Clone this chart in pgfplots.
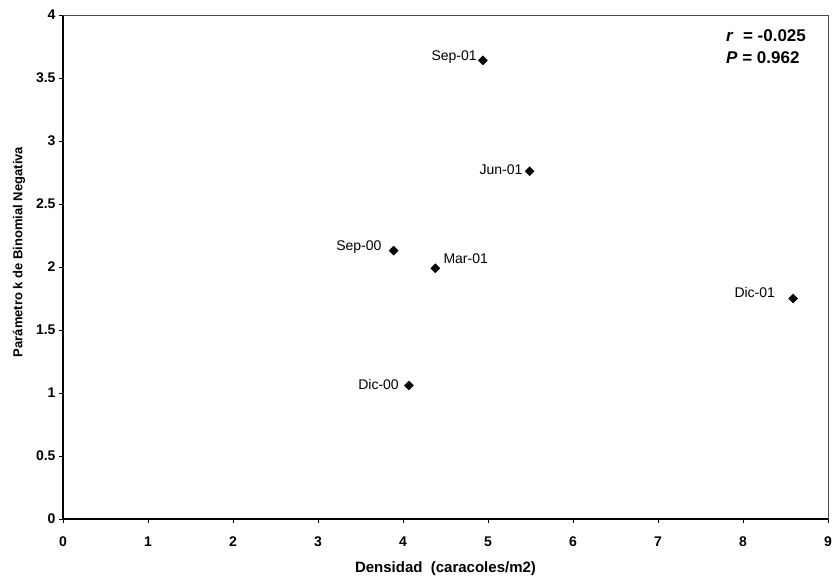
\documentclass[border=0pt]{standalone}
\usepackage{fontspec}
\setmainfont{Liberation Sans}
\usepackage{pgfplots}
\pgfplotsset{compat=1.18}
\usepackage{pgfplotstable}
\pgfplotstableread{
x y
3.89 2.13
4.07 1.06
4.38 1.99
4.94 3.64
5.49 2.76
8.59 1.75
}\datatable
\begin{document}
\begin{tikzpicture}
\begin{axis}[
  scale only axis, width=765pt, height=504pt,
  xmin=0, xmax=9, ymin=0, ymax=4,
  xtick={0,1,...,9}, ytick={0,0.5,...,4},
  axis x line*=bottom, axis y line*=left,
  axis line style={line width=1.1pt, -},
  tick align=outside, major tick length=4pt,
  tick style={black, line width=0.8pt},
  /pgf/number format/assume math mode=true,
  ticklabel style={font=\fontsize{14}{16}\selectfont\bfseries},
  xticklabel style={yshift=-10pt},
  yticklabel style={/pgf/number format/fixed},
  xlabel={Densidad\ \ (caracoles/m2)},
  ylabel={Parámetro k de Binomial Negativa},
  xlabel style={font=\fontsize{15}{17}\selectfont\bfseries, yshift=-8pt},
  ylabel style={font=\fontsize{13}{15}\selectfont\bfseries, yshift=4pt, xshift=15pt},
  clip=false,
]
\addplot[only marks, mark=square*, mark size=3.2pt,
  mark options={rotate=45, fill=black, draw=black}]
  table[x=x, y=y] {\datatable};
\begin{scope}[every node/.style={inner sep=0pt, font=\fontsize{14}{16}\selectfont}]
\node[anchor=east, xshift=-12pt, yshift=4pt] at (axis cs:3.89,2.13) {Sep-00};
\node[anchor=east, xshift=-10pt, yshift=1pt] at (axis cs:4.07,1.06) {Dic-00};
\node[anchor=west, xshift=8pt, yshift=10pt] at (axis cs:4.38,1.99) {Mar-01};
\node[anchor=east, xshift=-6pt, yshift=3pt] at (axis cs:4.94,3.64) {Sep-01};
\node[anchor=east, xshift=-7pt, yshift=2pt] at (axis cs:5.49,2.76) {Jun-01};
\node[anchor=east, xshift=-18pt, yshift=6pt] at (axis cs:8.59,1.75) {Dic-01};
\end{scope}
\draw[black!70, line width=0.6pt] (rel axis cs:0,1) -- (rel axis cs:1,1) -- (rel axis cs:1,0);
\node[anchor=west, inner sep=0pt, font=\fontsize{17}{19}\selectfont\bfseries] at (rel axis cs:0.8667,0.960) {\textit{r}\ \ = -0.025};
\node[anchor=west, inner sep=0pt, font=\fontsize{17}{19}\selectfont\bfseries] at (rel axis cs:0.8667,0.9147) {\textit{P} = 0.962};
\coordinate (sw) at (rel axis cs:0,0);
\coordinate (ne) at (rel axis cs:1,1);
\end{axis}
\pgfresetboundingbox
\path ([shift={(-63pt,-61pt)}]sw) rectangle ([shift={(4pt,15pt)}]ne);
\end{tikzpicture}
\end{document}
